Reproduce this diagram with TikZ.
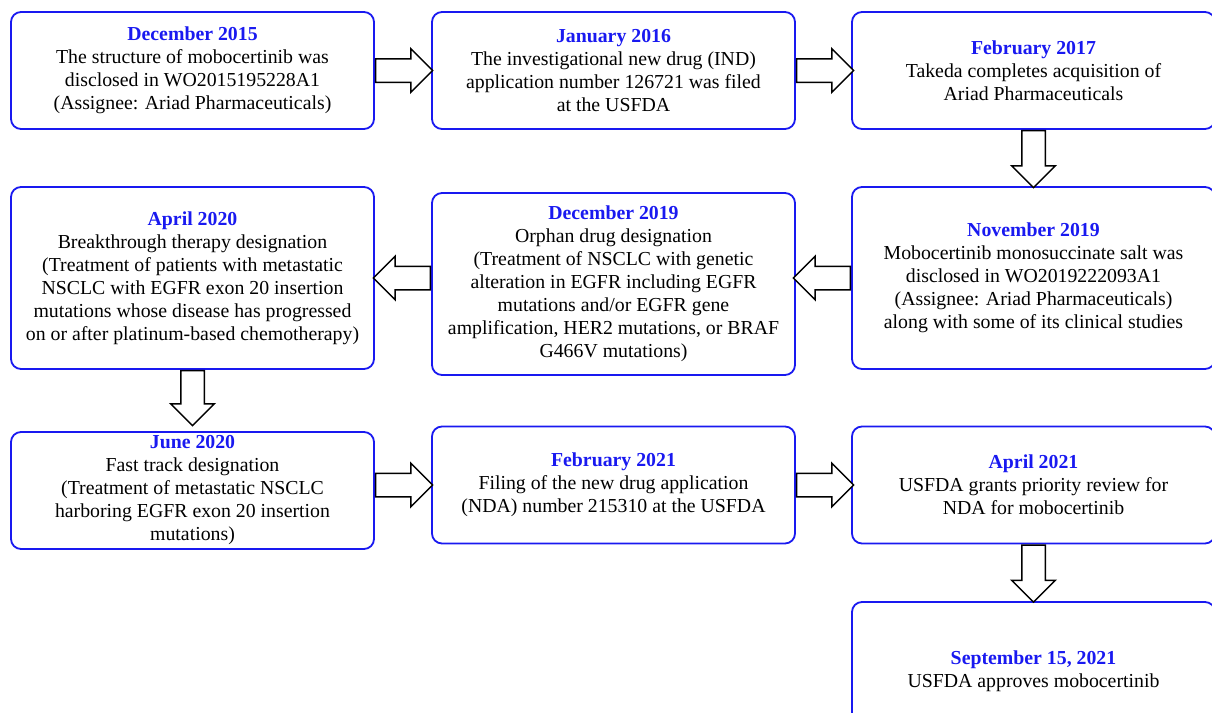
\documentclass[tikz,border=0pt]{standalone}
\usepackage{fontspec}
\setmainfont{Liberation Serif}
\usepackage{xcolor}
\usepackage{tikz}
\usetikzlibrary{shapes.arrows, positioning, calc}
\definecolor{evblue}{RGB}{25,25,240}
\tikzset{
  event/.style={rectangle, draw=evblue, line width=0.9pt, rounded corners=5pt, align=center, inner sep=0pt, minimum width=181.5pt, minimum height=58.5pt, font=\fontsize{9.9}{11.5}\selectfont},
  tallevent/.style={event, minimum height=91pt},
  fatarrow/.style={single arrow, draw=black, fill=white, line width=0.75pt, minimum width=0pt, inner xsep=0pt, inner ysep=5.5pt, single arrow head extend=5pt, single arrow tip angle=90, minimum height=28.5pt, sloped, allow upside down, pos=0, anchor=tail}
}
\newcommand{\when}[1]{{\bfseries\color{evblue}#1}}

\begin{document}
\begin{tikzpicture}[x=0.5pt, y=-0.5pt]
  \useasboundingbox (0,0) rectangle (1212,713);

  % Row 1
  \node[event] (dec15) at (192.5,70.5) {\when{December 2015}\\The structure of mobocertinib was\\disclosed in WO2015195228A1\\(Assignee: Ariad Pharmaceuticals)};
  \node[event] (jan16) at (613.5,70.5) {\when{January 2016}\\The investigational new drug (IND)\\application number 126721 was filed\\at the USFDA};
  \node[event] (feb17) at (1033.5,70.5) {\when{February 2017}\\Takeda completes acquisition of\\Ariad Pharmaceuticals};

  % Row 2
  \node[tallevent] (nov19) at (1033.5,278) {\when{November 2019}\\Mobocertinib monosuccinate salt was\\disclosed in WO2019222093A1\\(Assignee: Ariad Pharmaceuticals)\\along with some of its clinical studies};
  \node[tallevent] (dec19) at (613.5,284) {\when{December 2019}\\Orphan drug designation\\(Treatment of NSCLC with genetic\\alteration in EGFR including EGFR\\mutations and/or EGFR gene\\amplification, HER2 mutations, or BRAF\\G466V mutations)};
  \node[tallevent] (apr20) at (192.5,278) {\when{April 2020}\\Breakthrough therapy designation\\(Treatment of patients with metastatic\\NSCLC with EGFR exon 20 insertion\\mutations whose disease has progressed\\on or after platinum-based chemotherapy)};

  % Row 3
  \node[event] (jun20) at (192.5,490.5) {\when{June 2020}\\Fast track designation\\(Treatment of metastatic NSCLC\\harboring EGFR exon 20 insertion\\mutations)};
  \node[event] (feb21) at (613.5,485) {\when{February 2021}\\Filing of the new drug application\\(NDA) number 215310 at the USFDA};
  \node[event] (apr21) at (1033.5,485) {\when{April 2021}\\USFDA grants priority review for\\NDA for mobocertinib};

  % Row 4
  \node[event, minimum height=69pt] (sep21) at (1033.5,671) {\when{September 15, 2021}\\USFDA approves mobocertinib};

  % Arrows
  \path (dec15.east) -- node[fatarrow] {} (jan16.west);
  \path (jan16.east) -- node[fatarrow] {} (feb17.west);
  \path (feb17.south) -- node[fatarrow] {} (nov19.north);
  \path (nov19.west) -- node[fatarrow] {} (nov19.west -| dec19.east);
  \path (dec19.west |- apr20.east) -- node[fatarrow] {} (apr20.east);
  \path (apr20.south) -- node[fatarrow, minimum height=27.5pt] {} (jun20.north);
  \path (jun20.east |- feb21.west) -- node[fatarrow] {} (feb21.west);
  \path (feb21.east) -- node[fatarrow] {} (apr21.west);
  \path (apr21.south) -- node[fatarrow] {} (sep21.north);
\end{tikzpicture}
\end{document}
